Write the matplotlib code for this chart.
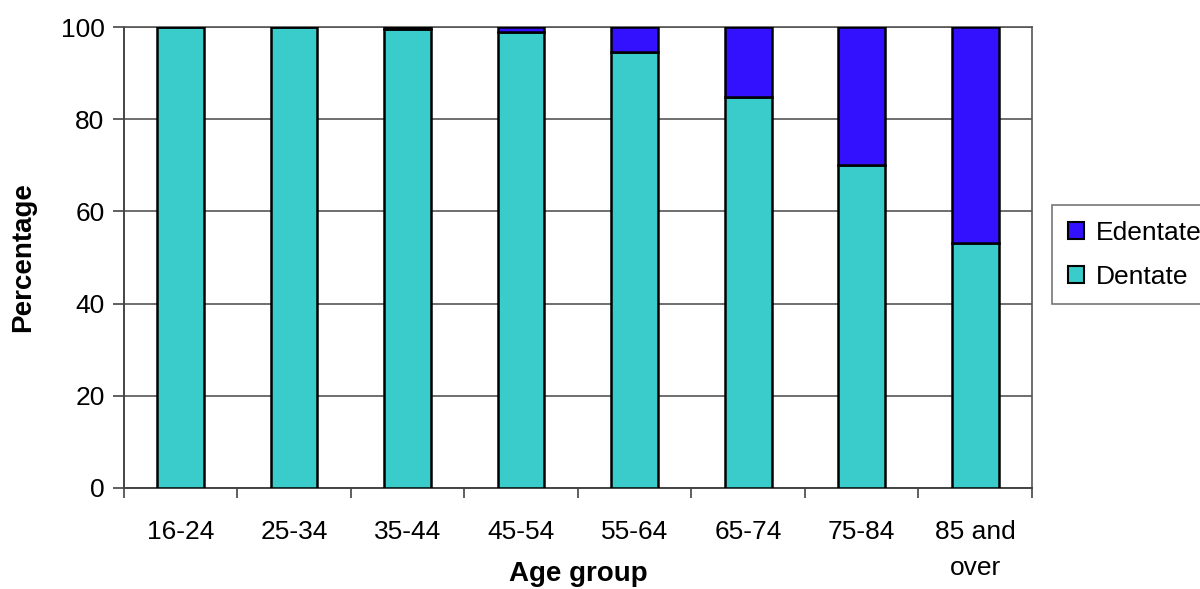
import numpy as np
import matplotlib.pyplot as plt
from matplotlib.patches import Patch

plt.rcParams['font.family'] = ['Liberation Sans', 'DejaVu Sans']

age_groups = ['16-24', '25-34', '35-44', '45-54', '55-64', '65-74', '75-84', '85 and\nover']
dentate = [100, 100, 99.6, 98.9, 94.6, 84.8, 70.1, 53.1]
edentate = [100 - d for d in dentate]
yticks = [0, 20, 40, 60, 80, 100]

c_dent = '#3ACCCA'
c_edent = '#3311FF'

fig = plt.figure(figsize=(12, 5.89), dpi=100)
ax = fig.add_axes([0.1033, 0.1715, 0.7567, 0.7825])

x = np.arange(len(age_groups))
ax.bar(x, dentate, width=0.41, color=c_dent, edgecolor='black', lw=1.8, zorder=3)
ax.bar(x, edentate, width=0.41, bottom=dentate, color=c_edent, edgecolor='black', lw=1.8, zorder=3)

ax.set_xlim(-0.5, len(age_groups) - 0.5)
ax.set_ylim(0, 100)
ax.set_yticks(yticks)
ax.set_yticklabels([str(t) for t in yticks], fontsize=19)
ax.set_xticks(np.arange(len(age_groups) + 1) - 0.5)
ax.set_xticklabels([])
ax.set_xticks(x, minor=True)
ax.set_xticklabels(age_groups, minor=True, fontsize=19, linespacing=1.65)
ax.tick_params(axis='x', which='minor', length=0, pad=23)
ax.tick_params(axis='x', which='major', length=7, width=1.2, direction='out', color='#444444')
ax.tick_params(axis='y', length=8, width=1.2, direction='out', color='#444444', pad=6)

ax.yaxis.grid(True, color='#555555', lw=1.2, zorder=0)
for s in ['top', 'right']:
    ax.spines[s].set_color('#555555')
    ax.spines[s].set_linewidth(1.2)
for s in ['left', 'bottom']:
    ax.spines[s].set_color('#444444')
    ax.spines[s].set_linewidth(1.4)

ax.set_xlabel('Age group', fontsize=20, fontweight='bold')
ax.xaxis.set_label_coords(0.5, -0.158)
ax.set_ylabel('Percentage', fontsize=20, fontweight='bold', labelpad=18)

handles = [Patch(facecolor=c_edent, edgecolor='black', lw=1.5, label='Edentate'),
           Patch(facecolor=c_dent, edgecolor='black', lw=1.5, label='Dentate')]
leg = fig.legend(handles=handles, loc='upper left', bbox_to_anchor=(0.877, 0.652),
                 borderaxespad=0, fontsize=19, frameon=True, fancybox=False,
                 edgecolor='#555555', handlelength=0.6, handleheight=0.6,
                 handletextpad=0.45, labelspacing=0.75, borderpad=0.6)
leg.get_frame().set_linewidth(1.2)

fig.savefig('out.png', dpi=100)
